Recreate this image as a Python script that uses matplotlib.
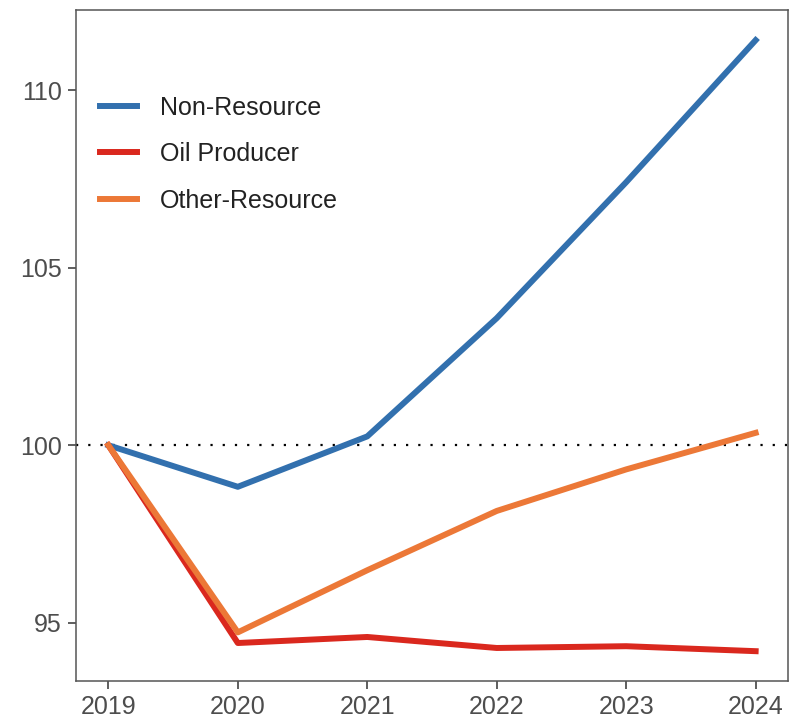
import matplotlib.pyplot as plt

plt.rcParams['font.family'] = ['Liberation Sans', 'DejaVu Sans']

# Données
years = [2019, 2020, 2021, 2022, 2023, 2024]
non_resource = [100, 98.83, 100.25, 103.58, 107.41, 111.41]
oil_producer = [100, 94.43, 94.60, 94.29, 94.34, 94.20]
other_resource = [100, 94.73, 96.48, 98.15, 99.32, 100.35]
yticks = [95, 100, 105, 110]

fig = plt.figure(figsize=(7.89, 7.19), dpi=100)
ax = fig.add_axes([76 / 789, 38 / 719, 712 / 789, 671 / 719])

ax.axhline(100, color='black', lw=1.6, linestyle=(0, (1, 4.5)), zorder=1)
ax.plot(years, non_resource, color='#3270AE', lw=4.3, label='Non-Resource', zorder=2)
ax.plot(years, oil_producer, color='#DA281E', lw=4.3, label='Oil Producer', zorder=3)
ax.plot(years, other_resource, color='#EC7837', lw=4.3, label='Other-Resource', zorder=4)

ax.set_xlim(2018.75, 2024.25)
ax.set_ylim(93.36, 112.26)
ax.set_xticks(years)
ax.set_yticks(yticks)
ax.tick_params(colors='#333333', labelcolor='#4D4D4D', labelsize=18, length=5.5, width=1.1, pad=4.5)

for s in ax.spines.values():
    s.set_color('#555555')
    s.set_linewidth(1.1)

leg = ax.legend(loc='upper left', bbox_to_anchor=(0.0337, 0.8725), frameon=False, fontsize=18,
                handlelength=1.5, handletextpad=0.9, labelspacing=0.9, borderaxespad=0.0,
                borderpad=0.0)
for t in leg.get_texts():
    t.set_color('#222222')

fig.savefig('out.png', dpi=100)
